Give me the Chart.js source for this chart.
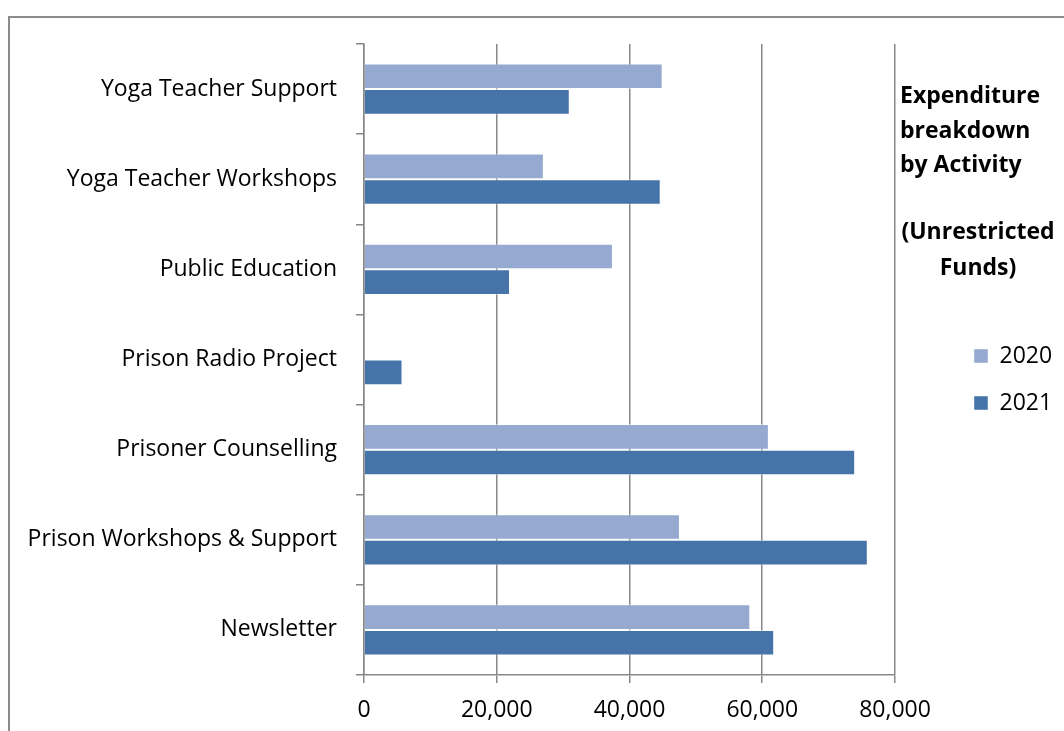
<!DOCTYPE html>
<html>
<head>
<meta charset="utf-8">
<script src="https://cdn.jsdelivr.net/npm/chart.js@4/dist/chart.umd.min.js"></script>
<style>
  html, body { margin: 0; padding: 0; background: #fff; overflow: hidden; }
  #frame {
    position: absolute; left: 8px; top: 16px;
    width: 1100px; height: 800px;
    border-left: 2px solid #8c8c8c; border-top: 2px solid #8c8c8c;
  }
  #wrap { position: absolute; left: 0; top: 0; width: 1054px; height: 713px; }
</style>
</head>
<body>
<div id="frame">
  <div id="wrap"><canvas id="grafico"></canvas></div>
</div>
<script>
// activities, top to bottom
const actividades = [
    'Yoga Teacher Support',
    'Yoga Teacher Workshops',
    'Public Education',
    'Prison Radio Project',
    'Prisoner Counselling',
    'Prison Workshops & Support',
    'Newsletter'
];
const gasto2020 = [45000, 27100, 37500, 0, 61000, 47600, 58200];
const gasto2021 = [31000, 44700, 22000, 5800, 74000, 75900, 61800];
const etiquetasAnio = ['2020', '2021'];
const pasosEje = [0, 20000, 40000, 60000, 80000];

const tituloIzq = ['Expenditure', 'breakdown', 'by Activity'];
const tituloCentro = ['(Unrestricted', 'Funds)'];

const fuente = '"Open Sans", Lato, sans-serif';
const gris = '#878787';

// heading text block to the right of the plot
const tituloPlugin = {
    id: 'tituloLateral',
    afterDraw(chart) {
        const ctx = chart.ctx;
        ctx.save();
        ctx.fillStyle = '#000';
        ctx.font = 'bold 23px ' + fuente;
        ctx.textBaseline = 'middle';
        ctx.textAlign = 'left';
        const ysIzq = [78, 113, 147];
        tituloIzq.forEach((t, i) => ctx.fillText(t, 890, ysIzq[i]));
        ctx.textAlign = 'center';
        const ysCentro = [214, 250];
        tituloCentro.forEach((t, i) => ctx.fillText(t, 968, ysCentro[i]));
        ctx.restore();
    }
};

const ctx = document.getElementById('grafico').getContext('2d');
new Chart(ctx, {
    type: 'bar',
    data: {
        labels: actividades,
        datasets: [
            {
                label: etiquetasAnio[0],
                data: gasto2020,
                backgroundColor: '#95a9d1',
                borderColor: 'rgba(255,255,255,0.45)',
                borderWidth: 1
            },
            {
                label: etiquetasAnio[1],
                data: gasto2021,
                backgroundColor: '#4673a8',
                borderColor: 'rgba(255,255,255,0.45)',
                borderWidth: 1
            }
        ]
    },
    options: {
        indexAxis: 'y',
        responsive: true,
        maintainAspectRatio: false,
        animation: false,
        locale: 'en-US',
        categoryPercentage: 0.569,
        barPercentage: 1,
        layout: { padding: { top: 26, bottom: 0, left: 0, right: 1.9 } },
        plugins: {
            legend: {
                position: 'right',
                align: 'center',
                fullSize: false,
                // blank title only pushes the two entries down
                title: { display: true, text: ' ', font: { size: 10 }, padding: { top: 28, bottom: 0 } },
                labels: {
                    boxWidth: 14,
                    boxHeight: 14,
                    padding: 24,
                    color: '#000',
                    font: { family: fuente, size: 23 }
                }
            },
            tooltip: { enabled: false }
        },
        scales: {
            x: {
                min: pasosEje[0],
                max: pasosEje[pasosEje.length - 1],
                afterBuildTicks(scale) {
                    scale.ticks = pasosEje.map(v => ({ value: v }));
                },
                afterFit(scale) {
                    scale.height = 56;
                    scale.paddingLeft = 0;
                    scale.paddingRight = 0;
                },
                grid: { color: gris, lineWidth: 1.5, tickLength: 8 },
                border: { color: gris, width: 1.5 },
                ticks: { color: '#000', padding: 14, font: { family: fuente, size: 23 } }
            },
            y: {
                afterFit(scale) {
                    scale.width = 354;
                    scale.paddingTop = 0;
                    scale.paddingBottom = 0;
                },
                grid: { color: gris, lineWidth: 1.5, tickLength: 8, drawOnChartArea: false },
                border: { color: gris, width: 1.5 },
                ticks: { color: '#000', padding: 19, font: { family: fuente, size: 23 } }
            },
            // empty strip between the plot and the legend
            hueco: {
                axis: 'y',
                type: 'linear',
                position: 'right',
                afterFit(scale) { scale.width = 55; },
                grid: { display: false },
                border: { display: false },
                ticks: { display: false }
            }
        }
    },
    plugins: [tituloPlugin]
});
</script>
</body>
</html>
